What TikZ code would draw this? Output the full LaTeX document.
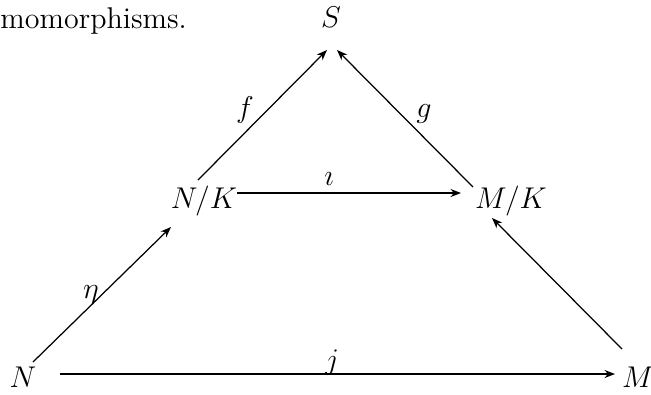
\documentclass[tikz,border=0pt]{standalone}
\usetikzlibrary{arrows.meta,calc}
\begin{document}
\begin{tikzpicture}[x=0.4pt,y=-0.4pt,
  obj/.style={anchor=base,inner sep=0pt,font=\fontsize{13pt}{15pt}\selectfont},
  lbl/.style={anchor=base,inner sep=0pt,font=\fontsize{13pt}{15pt}\selectfont},
  arr/.style={line width=0.5pt,-{Stealth[length=4.2pt,width=3.2pt]}}]
\useasboundingbox (0,0) rectangle (651,394);
\node[anchor=base west,inner sep=0pt,font=\fontsize{12pt}{14pt}\selectfont] (txt) at (0,28) {momorphisms.};
\node[obj] (s) at (331,27) {$S$};
\node[obj] (nk) at (204,208) {$N/K$};
\node[obj] (mk) at (511,208) {$M/K$};
\node[obj] (n) at (23,387) {$N$};
\node[obj] (m) at (638,387) {$M$};
% connectors
\draw[arr] ($(nk.base)+(-6,-28)$) -- ($(s.base)+(-4,23)$);
\draw[arr] ($(mk.base)+(-38,-21)$) -- ($(s.base)+(6,23)$);
\draw[arr] ($(nk.base)+(33,-15)$) -- ($(mk.base)+(-50,-15)$);
\draw[arr] ($(n.base)+(10,-25)$) -- ($(nk.base)+(-33,19)$);
\draw[arr] ($(m.base)+(-16,-38)$) -- ($(mk.base)+(-19,10)$);
\draw[arr] ($(n.base)+(37,-13)$) -- ($(m.base)+(-23,-13)$);
% labels
\node[lbl] (f) at (245,117) {$f$};
\node[lbl] (g) at (424,117) {$g$};
\node[lbl] (i) at (329,185) {$\imath$};
\node[lbl] (eta) at (91,298) {$\eta$};
\node[lbl] (j) at (332,369) {$j$};
\end{tikzpicture}
\end{document}
